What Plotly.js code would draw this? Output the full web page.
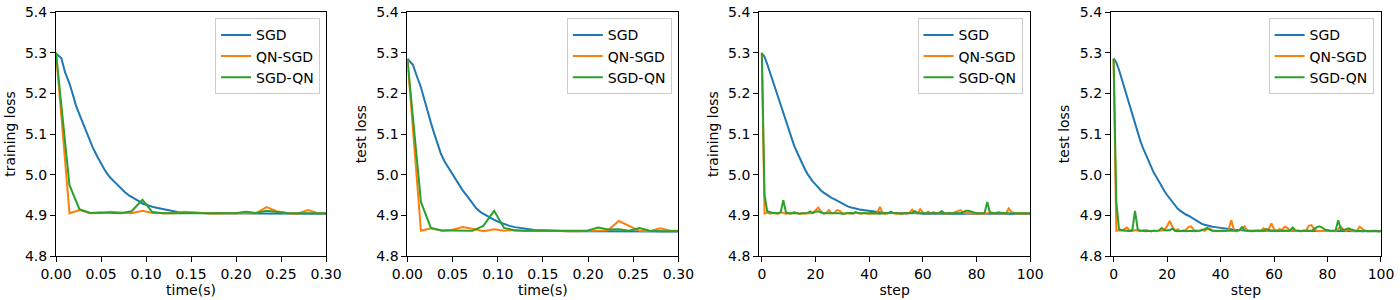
<!DOCTYPE html>
<html>
<head>
<meta charset="utf-8">
<script src="https://cdn.plot.ly/plotly-3.0.1.min.js"></script>
<style>html,body{margin:0;padding:0;background:#fff;}#chart{width:1400px;height:300px;}</style>
</head>
<body>
<div id="chart"></div>
<script>
const seriesNames = ["SGD", "QN-SGD", "SGD-QN"];
const seriesColors = ["#1f77b4", "#ff7f0e", "#2ca02c"];

// ---- time panels ----
const sgdTime = [0, 0.006, 0.010, 0.015, 0.019, 0.022, 0.026, 0.030, 0.034, 0.037, 0.041, 0.046, 0.050, 0.054, 0.057, 0.061, 0.067, 0.071, 0.076, 0.081, 0.087, 0.092, 0.096, 0.102, 0.107, 0.113, 0.119, 0.124, 0.130, 0.135, 0.141, 0.150, 0.160, 0.170, 0.180, 0.190, 0.200, 0.210, 0.220, 0.230, 0.240, 0.250, 0.260, 0.270, 0.280, 0.290, 0.300];
const qnTime = [0, 0.015, 0.026, 0.038, 0.049, 0.061, 0.072, 0.084, 0.096, 0.107, 0.119, 0.130, 0.142, 0.153, 0.165, 0.176, 0.188, 0.199, 0.211, 0.222, 0.234, 0.245, 0.257, 0.268, 0.280, 0.291, 0.303];

const sgdTrainByTime = [5.298, 5.286, 5.252, 5.224, 5.195, 5.171, 5.148, 5.126, 5.104, 5.085, 5.066, 5.044, 5.027, 5.012, 5.002, 4.991, 4.978, 4.968, 4.958, 4.949, 4.942, 4.935, 4.929, 4.924, 4.921, 4.918, 4.915, 4.912, 4.910, 4.908, 4.907, 4.906, 4.906, 4.905, 4.905, 4.905, 4.904, 4.905, 4.905, 4.904, 4.904, 4.904, 4.904, 4.904, 4.904, 4.904, 4.904];
const qnsgdTrainByTime = [5.300, 4.905, 4.913, 4.905, 4.906, 4.909, 4.907, 4.905, 4.911, 4.906, 4.905, 4.905, 4.909, 4.907, 4.905, 4.904, 4.905, 4.905, 4.904, 4.905, 4.920, 4.910, 4.905, 4.904, 4.913, 4.905, 4.905];
const sgdqnTrainByTime = [5.300, 4.974, 4.915, 4.906, 4.907, 4.906, 4.905, 4.910, 4.938, 4.908, 4.905, 4.905, 4.906, 4.906, 4.905, 4.905, 4.904, 4.905, 4.909, 4.906, 4.911, 4.908, 4.906, 4.905, 4.905, 4.905, 4.905];

const sgdTestByTime = [5.285, 5.271, 5.245, 5.215, 5.183, 5.158, 5.128, 5.099, 5.071, 5.052, 5.033, 5.015, 4.999, 4.985, 4.974, 4.962, 4.945, 4.932, 4.918, 4.908, 4.900, 4.894, 4.889, 4.883, 4.878, 4.874, 4.871, 4.870, 4.867, 4.866, 4.864, 4.863, 4.862, 4.861, 4.861, 4.861, 4.861, 4.860, 4.860, 4.860, 4.860, 4.860, 4.860, 4.860, 4.860, 4.860, 4.860];
const qnsgdTestByTime = [5.285, 4.862, 4.868, 4.862, 4.864, 4.871, 4.867, 4.861, 4.866, 4.862, 4.864, 4.862, 4.863, 4.862, 4.862, 4.861, 4.861, 4.862, 4.862, 4.863, 4.886, 4.875, 4.862, 4.861, 4.868, 4.862, 4.862];
const sgdqnTestByTime = [5.285, 4.933, 4.869, 4.863, 4.863, 4.863, 4.862, 4.874, 4.911, 4.869, 4.863, 4.862, 4.862, 4.862, 4.862, 4.861, 4.861, 4.862, 4.870, 4.865, 4.866, 4.862, 4.869, 4.862, 4.861, 4.861, 4.861];

// ---- step panels ----
const steps = [0,1,2,3,4,5,6,7,8,9,10,11,12,13,14,15,16,17,18,19,20,21,22,23,24,25,26,27,28,29,30,31,32,33,34,35,36,37,38,39,40,41,42,43,44,45,46,47,48,49,50,51,52,53,54,55,56,57,58,59,60,61,62,63,64,65,66,67,68,69,70,71,72,73,74,75,76,77,78,79,80,81,82,83,84,85,86,87,88,89,90,91,92,93,94,95,96,97,98,99,100];

const sgdTrainByStep = [5.298, 5.290, 5.272, 5.252, 5.232, 5.211, 5.190, 5.168, 5.147, 5.127, 5.107, 5.088, 5.072, 5.057, 5.042, 5.028, 5.014, 5.002, 4.992, 4.983, 4.976, 4.968, 4.961, 4.956, 4.951, 4.947, 4.943, 4.940, 4.936, 4.932, 4.928, 4.925, 4.922, 4.920, 4.918, 4.916, 4.915, 4.914, 4.913, 4.912, 4.911, 4.910, 4.909, 4.908, 4.907, 4.907, 4.906, 4.906, 4.906, 4.905, 4.905, 4.905, 4.905, 4.905, 4.905, 4.905, 4.905, 4.905, 4.905, 4.905, 4.904, 4.904, 4.904, 4.904, 4.904, 4.904, 4.904, 4.904, 4.904, 4.904, 4.904, 4.904, 4.904, 4.904, 4.904, 4.904, 4.904, 4.904, 4.904, 4.904, 4.904, 4.904, 4.904, 4.904, 4.904, 4.904, 4.904, 4.904, 4.904, 4.904, 4.904, 4.904, 4.904, 4.904, 4.904, 4.904, 4.904, 4.904, 4.904, 4.904, 4.904];
const qnsgdTrainByStep = [5.300, 4.905, 4.907, 4.904, 4.906, 4.905, 4.904, 4.908, 4.905, 4.904, 4.905, 4.904, 4.908, 4.905, 4.904, 4.905, 4.904, 4.905, 4.906, 4.905, 4.912, 4.919, 4.910, 4.904, 4.906, 4.913, 4.905, 4.906, 4.913, 4.911, 4.905, 4.904, 4.906, 4.905, 4.904, 4.907, 4.905, 4.904, 4.906, 4.905, 4.904, 4.905, 4.904, 4.906, 4.921, 4.905, 4.904, 4.905, 4.908, 4.905, 4.904, 4.905, 4.904, 4.905, 4.904, 4.906, 4.914, 4.906, 4.905, 4.915, 4.907, 4.905, 4.909, 4.905, 4.908, 4.905, 4.904, 4.909, 4.905, 4.904, 4.906, 4.905, 4.908, 4.911, 4.913, 4.907, 4.905, 4.906, 4.905, 4.904, 4.905, 4.904, 4.905, 4.904, 4.905, 4.908, 4.905, 4.904, 4.907, 4.905, 4.904, 4.905, 4.917, 4.908, 4.905, 4.904, 4.905, 4.904, 4.905, 4.904, 4.905];
const sgdqnTrainByStep = [5.300, 4.950, 4.910, 4.907, 4.906, 4.906, 4.905, 4.907, 4.937, 4.907, 4.905, 4.905, 4.906, 4.905, 4.904, 4.905, 4.905, 4.906, 4.909, 4.906, 4.909, 4.910, 4.907, 4.905, 4.905, 4.905, 4.905, 4.906, 4.905, 4.905, 4.904, 4.905, 4.905, 4.906, 4.905, 4.908, 4.905, 4.905, 4.904, 4.905, 4.905, 4.906, 4.905, 4.905, 4.904, 4.905, 4.906, 4.905, 4.909, 4.906, 4.905, 4.905, 4.904, 4.905, 4.905, 4.905, 4.906, 4.910, 4.906, 4.905, 4.905, 4.906, 4.905, 4.905, 4.906, 4.905, 4.906, 4.910, 4.905, 4.905, 4.905, 4.906, 4.905, 4.906, 4.905, 4.908, 4.911, 4.911, 4.909, 4.906, 4.905, 4.905, 4.905, 4.906, 4.933, 4.907, 4.906, 4.905, 4.907, 4.906, 4.905, 4.905, 4.905, 4.904, 4.905, 4.905, 4.904, 4.905, 4.905, 4.904, 4.905];

const sgdTestByStep = [5.286, 5.276, 5.258, 5.236, 5.214, 5.191, 5.168, 5.146, 5.124, 5.103, 5.083, 5.065, 5.049, 5.034, 5.019, 5.005, 4.994, 4.982, 4.971, 4.960, 4.950, 4.941, 4.932, 4.924, 4.916, 4.911, 4.906, 4.902, 4.899, 4.895, 4.890, 4.886, 4.882, 4.879, 4.877, 4.875, 4.873, 4.872, 4.871, 4.870, 4.869, 4.868, 4.867, 4.866, 4.865, 4.865, 4.864, 4.864, 4.863, 4.863, 4.862, 4.862, 4.862, 4.862, 4.862, 4.862, 4.862, 4.862, 4.862, 4.862, 4.861, 4.861, 4.861, 4.861, 4.861, 4.861, 4.861, 4.861, 4.861, 4.861, 4.861, 4.861, 4.861, 4.861, 4.861, 4.861, 4.861, 4.861, 4.861, 4.861, 4.861, 4.861, 4.861, 4.861, 4.861, 4.861, 4.861, 4.861, 4.861, 4.861, 4.861, 4.861, 4.861, 4.861, 4.861, 4.861, 4.861, 4.861, 4.861, 4.861, 4.861];
const qnsgdTestByStep = [5.285, 4.862, 4.863, 4.862, 4.866, 4.870, 4.863, 4.861, 4.864, 4.862, 4.861, 4.863, 4.864, 4.862, 4.861, 4.862, 4.861, 4.862, 4.862, 4.863, 4.874, 4.886, 4.872, 4.862, 4.866, 4.861, 4.862, 4.864, 4.871, 4.873, 4.864, 4.862, 4.861, 4.865, 4.862, 4.866, 4.868, 4.862, 4.861, 4.862, 4.861, 4.862, 4.861, 4.865, 4.888, 4.864, 4.862, 4.863, 4.866, 4.873, 4.862, 4.861, 4.862, 4.861, 4.862, 4.861, 4.868, 4.863, 4.866, 4.880, 4.866, 4.862, 4.866, 4.864, 4.872, 4.869, 4.862, 4.864, 4.861, 4.862, 4.861, 4.862, 4.863, 4.874, 4.876, 4.866, 4.862, 4.861, 4.862, 4.861, 4.862, 4.861, 4.862, 4.861, 4.866, 4.872, 4.864, 4.862, 4.866, 4.862, 4.861, 4.862, 4.872, 4.866, 4.862, 4.861, 4.862, 4.861, 4.862, 4.861, 4.862];
const sgdqnTestByStep = [5.285, 4.935, 4.866, 4.863, 4.862, 4.862, 4.861, 4.864, 4.911, 4.866, 4.862, 4.862, 4.861, 4.862, 4.861, 4.862, 4.862, 4.863, 4.869, 4.864, 4.863, 4.864, 4.867, 4.862, 4.861, 4.862, 4.862, 4.861, 4.862, 4.862, 4.861, 4.862, 4.862, 4.863, 4.866, 4.869, 4.864, 4.862, 4.862, 4.861, 4.862, 4.862, 4.861, 4.862, 4.862, 4.861, 4.862, 4.863, 4.871, 4.863, 4.862, 4.862, 4.861, 4.862, 4.862, 4.861, 4.862, 4.866, 4.863, 4.862, 4.862, 4.861, 4.862, 4.862, 4.863, 4.862, 4.863, 4.870, 4.863, 4.862, 4.861, 4.862, 4.862, 4.863, 4.862, 4.866, 4.871, 4.873, 4.870, 4.865, 4.863, 4.862, 4.862, 4.863, 4.888, 4.865, 4.864, 4.866, 4.868, 4.865, 4.862, 4.861, 4.862, 4.861, 4.862, 4.861, 4.861, 4.862, 4.861, 4.861, 4.861];

const xTitles = ["time(s)", "time(s)", "step", "step"];
const yTitles = ["training loss", "test loss", "training loss", "test loss"];
const yTickVals = [4.8, 4.9, 5.0, 5.1, 5.2, 5.3, 5.4];

const panels = [
  {xs: [sgdTime, qnTime, qnTime], ys: [sgdTrainByTime, qnsgdTrainByTime, sgdqnTrainByTime]},
  {xs: [sgdTime, qnTime, qnTime], ys: [sgdTestByTime, qnsgdTestByTime, sgdqnTestByTime]},
  {xs: [steps, steps, steps], ys: [sgdTrainByStep, qnsgdTrainByStep, sgdqnTrainByStep]},
  {xs: [steps, steps, steps], ys: [sgdTestByStep, qnsgdTestByStep, sgdqnTestByStep]}
];

const FONT = "DejaVu Sans, sans-serif";
const FS = 14;
const W = 1400, H = 300, ML = 56, MR = 19.3, MT = 12, MB = 43.5;
const PW = W - ML - MR, PH = H - MT - MB;
const pxX = p => (p - ML) / PW;
const pxY = p => (H - MB - p) / PH;

const xDomains = [[56, 326], [407.3, 678.3], [759, 1030], [1110.7, 1380.7]];
const legendRight = [320, 671.7, 1022.3, 1373.3];

const traces = [];
const layout = {
  width: W, height: H,
  margin: {l: ML, r: MR, t: MT, b: MB, pad: 0},
  paper_bgcolor: "#fff", plot_bgcolor: "#fff",
  font: {family: FONT, size: FS, color: "#000"},
  showlegend: true
};

panels.forEach((p, i) => {
  const n = i + 1;
  const xa = n === 1 ? "x" : "x" + n;
  const ya = n === 1 ? "y" : "y" + n;
  const lg = n === 1 ? "legend" : "legend" + n;
  for (let s = 0; s < 3; s++) {
    traces.push({
      type: "scatter", mode: "lines",
      x: p.xs[s], y: p.ys[s],
      name: seriesNames[s],
      line: {color: seriesColors[s], width: 2},
      xaxis: xa, yaxis: ya, legend: lg
    });
  }
  const isTime = i < 2;
  layout[n === 1 ? "xaxis" : "xaxis" + n] = {
    domain: [pxX(xDomains[i][0]), pxX(xDomains[i][1])],
    anchor: ya,
    range: isTime ? [0, 0.3] : [-1, 100],
    tickmode: "array",
    tickvals: isTime ? [0, 0.05, 0.1, 0.15, 0.2, 0.25, 0.3] : [0, 20, 40, 60, 80, 100],
    ticktext: isTime ? ["0.00", "0.05", "0.10", "0.15", "0.20", "0.25", "0.30"] : ["0", "20", "40", "60", "80", "100"],
    ticks: "outside", ticklen: 5, tickwidth: 1, tickcolor: "#000",
    showline: true, linecolor: "#000", linewidth: 1, mirror: true,
    showgrid: false, zeroline: false,
    tickfont: {family: FONT, size: FS, color: "#000"},
    title: {text: xTitles[i], font: {family: FONT, size: FS, color: "#000"}, standoff: 4}
  };
  layout[n === 1 ? "yaxis" : "yaxis" + n] = {
    domain: [0, 1],
    anchor: xa,
    range: [4.8, 5.4],
    tickmode: "array",
    tickvals: yTickVals,
    ticktext: yTickVals.map(v => v.toFixed(1)),
    ticks: "outside", ticklen: 5, tickwidth: 1, tickcolor: "#000",
    showline: true, linecolor: "#000", linewidth: 1, mirror: true,
    showgrid: false, zeroline: false,
    tickfont: {family: FONT, size: FS, color: "#000"},
    title: {text: yTitles[i], font: {family: FONT, size: FS, color: "#000"}, standoff: 6}
  };
  layout[lg] = {
    x: pxX(legendRight[i]), xanchor: "right",
    y: pxY(18.3), yanchor: "top",
    xref: "paper", yref: "paper",
    bgcolor: "rgba(255,255,255,0.8)",
    bordercolor: "#cccccc", borderwidth: 1,
    font: {family: FONT, size: FS, color: "#000"},
    itemwidth: 30
  };
});

Plotly.newPlot("chart", traces, layout, {displayModeBar: false, staticPlot: true});
</script>
</body>
</html>
